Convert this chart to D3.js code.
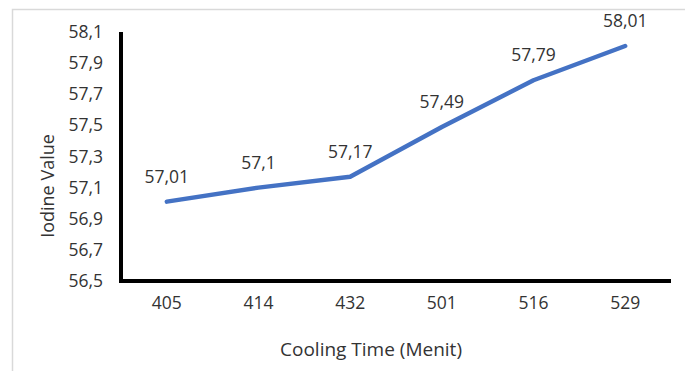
<!DOCTYPE html>
<html>
<head>
<meta charset="utf-8">
<script src="https://cdn.jsdelivr.net/npm/d3@7"></script>
<style>
  html, body { margin: 0; padding: 0; background: #fff; }
  svg { display: block; }
  text { font-family: "Open Sans", sans-serif; fill: #333; }
</style>
</head>
<body>
<svg id="chart" width="685" height="371"></svg>
<script>
// Cooling time (minutes) vs. iodine value
const categories = ["405", "414", "432", "501", "516", "529"];
const iodineValues = [57.01, 57.1, 57.17, 57.49, 57.79, 58.01];
const yTicks = [56.5, 56.7, 56.9, 57.1, 57.3, 57.5, 57.7, 57.9, 58.1];
const xTitle = "Cooling Time (Menit)";
const yTitle = "Iodine Value";

const svg = d3.select("#chart");
const W = 685, H = 371;
const margin = { left: 121, right: 14, top: 32, bottom: 90 };
const numSize = "17.5px";

const fmt = v => String(v).replace(".", ",");

// chart-area frame
svg.append("rect")
  .attr("x", 12.5).attr("y", 9.5)
  .attr("width", W).attr("height", H)
  .attr("fill", "none").attr("stroke", "#d9d9d9").attr("stroke-width", 1.5);

const x = d3.scaleBand()
  .domain(categories)
  .range([margin.left, W - margin.right]);

const y = d3.scaleLinear()
  .domain([56.5, 58.1])
  .range([H - margin.bottom, margin.top]);

// y axis (labels only, thick black line drawn separately)
const yAxis = svg.append("g")
  .attr("transform", `translate(${margin.left},0)`)
  .call(d3.axisLeft(y).tickValues(yTicks).tickFormat(d => fmt(d3.format(".1f")(d))).tickSize(0).tickPadding(18));
yAxis.select(".domain").remove();
yAxis.selectAll("text").style("font-size", numSize).attr("fill", "#333").style("font-family", "'Open Sans', sans-serif");

// x axis
const xAxis = svg.append("g")
  .attr("transform", `translate(0,${H - margin.bottom})`)
  .call(d3.axisBottom(x).tickSize(0).tickPadding(16));
xAxis.select(".domain").remove();
xAxis.selectAll("text").style("font-size", numSize).attr("fill", "#333").style("font-family", "'Open Sans', sans-serif");

// axis lines
svg.append("path")
  .attr("d", `M${margin.left},${margin.top}V${H - margin.bottom}H${W - margin.right}`)
  .attr("fill", "none").attr("stroke", "#000").attr("stroke-width", 4)
  .attr("stroke-linejoin", "miter");

// series line
const pts = categories.map((c, i) => ({ c, v: iodineValues[i] }));
const line = d3.line()
  .x(d => x(d.c) + x.bandwidth() / 2)
  .y(d => y(d.v));

svg.append("path")
  .datum(pts)
  .attr("d", line)
  .attr("fill", "none")
  .attr("stroke", "#4472C4")
  .attr("stroke-width", 4.5)
  .attr("stroke-linejoin", "round")
  .attr("stroke-linecap", "round");

// value labels
svg.append("g").selectAll("text")
  .data(pts)
  .join("text")
  .attr("x", d => x(d.c) + x.bandwidth() / 2)
  .attr("y", d => y(d.v) - 19)
  .attr("text-anchor", "middle")
  .style("font-size", numSize)
  .text(d => fmt(d.v));

// axis titles
svg.append("text")
  .attr("x", 371).attr("y", 356)
  .attr("text-anchor", "middle")
  .style("font-size", "19px")
  .text(xTitle);

svg.append("text")
  .attr("transform", "translate(54,186) rotate(-90)")
  .attr("text-anchor", "middle")
  .style("font-size", "18px")
  .text(yTitle);
</script>
</body>
</html>
